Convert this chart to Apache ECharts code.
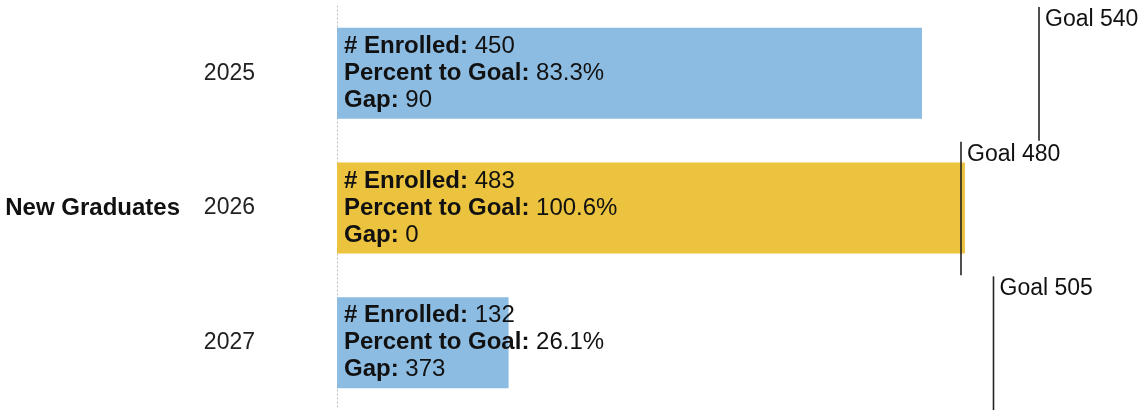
<!DOCTYPE html>
<html>
<head>
<meta charset="utf-8">
<script src="https://cdn.jsdelivr.net/npm/echarts@6/dist/echarts.min.js"></script>
<style>
    html, body { margin: 0; padding: 0; background: #fff; }
    #chart { width: 1145px; height: 413px; }
</style>
</head>
<body>
<div id="chart"></div>
<script>
// data
const years = ['2025', '2026', '2027'];
const groupName = ['New Graduates'];
const enrolled = [450, 483, 132];
const goals = [540, 480, 505];
const pctToGoal = ['83.3%', '100.6%', '26.1%'];
const gaps = [90, 0, 373];
const barColors = ['#8DBCE2', '#EBC33F', '#8DBCE2'];

const FONT = '"Liberation Sans", Arial, sans-serif';

const myChart = echarts.init(document.getElementById('chart'));

const option = {
    animation: false,
    backgroundColor: '#fff',
    textStyle: { fontFamily: FONT },
    grid: {
        left: 337,
        right: 28,
        top: 6,
        bottom: 3,
        containLabel: false
    },
    xAxis: {
        type: 'value',
        min: 0,
        max: 600,
        show: false
    },
    yAxis: [
        {
            type: 'category',
            inverse: true,
            data: years,
            axisTick: { show: false },
            axisLine: {
                show: true,
                lineStyle: { color: '#bbb', type: [1, 3], width: 1 }
            },
            axisLabel: {
                margin: 82,
                fontSize: 23,
                color: '#222',
                fontFamily: FONT
            }
        },
        {
            type: 'category',
            position: 'left',
            offset: 0,
            data: groupName,
            axisTick: { show: false },
            axisLine: { show: false },
            axisLabel: {
                margin: 157,
                fontSize: 24,
                fontWeight: 'bold',
                color: '#111',
                fontFamily: FONT
            }
        }
    ],
    series: [
        {
            name: 'Enrolled',
            type: 'bar',
            yAxisIndex: 0,
            barWidth: 91,
            z: 2,
            data: enrolled.map((v, i) => ({ value: v, itemStyle: { color: barColors[i] } })),
            label: {
                show: true,
                position: 'insideLeft',
                offset: [2, 0],
                color: '#111',
                fontFamily: FONT,
                formatter: (p) => {
                    const i = p.dataIndex;
                    return '{b|# Enrolled: }{n|' + enrolled[i] + '}\n' +
                        '{b|Percent to Goal: }{n|' + pctToGoal[i] + '}\n' +
                        '{b|Gap: }{n|' + gaps[i] + '}';
                },
                rich: {
                    b: { fontSize: 24, fontWeight: 'bold', color: '#111', lineHeight: 27, fontFamily: FONT },
                    n: { fontSize: 24, color: '#111', lineHeight: 27, fontFamily: FONT }
                }
            }
        },
        {
            name: 'Goal',
            type: 'custom',
            yAxisIndex: 0,
            z: 10,
            data: goals.map((g, i) => [g, i]),
            renderItem: (params, api) => {
                const pt = api.coord([api.value(0), api.value(1)]);
                const h = api.size([0, 1])[1];
                const top = pt[1] - h / 2;
                return {
                    type: 'group',
                    children: [
                        {
                            type: 'line',
                            shape: { x1: pt[0], y1: top + 1, x2: pt[0], y2: pt[1] + h / 2 },
                            style: { stroke: '#222', lineWidth: 1.6 }
                        },
                        {
                            type: 'text',
                            style: {
                                x: pt[0] + 6,
                                y: top + 2,
                                text: 'Goal ' + api.value(0),
                                fill: '#111',
                                font: '23px ' + FONT,
                                textAlign: 'left',
                                textVerticalAlign: 'top'
                            }
                        }
                    ]
                };
            }
        }
    ]
};

myChart.setOption(option);
</script>
</body>
</html>
